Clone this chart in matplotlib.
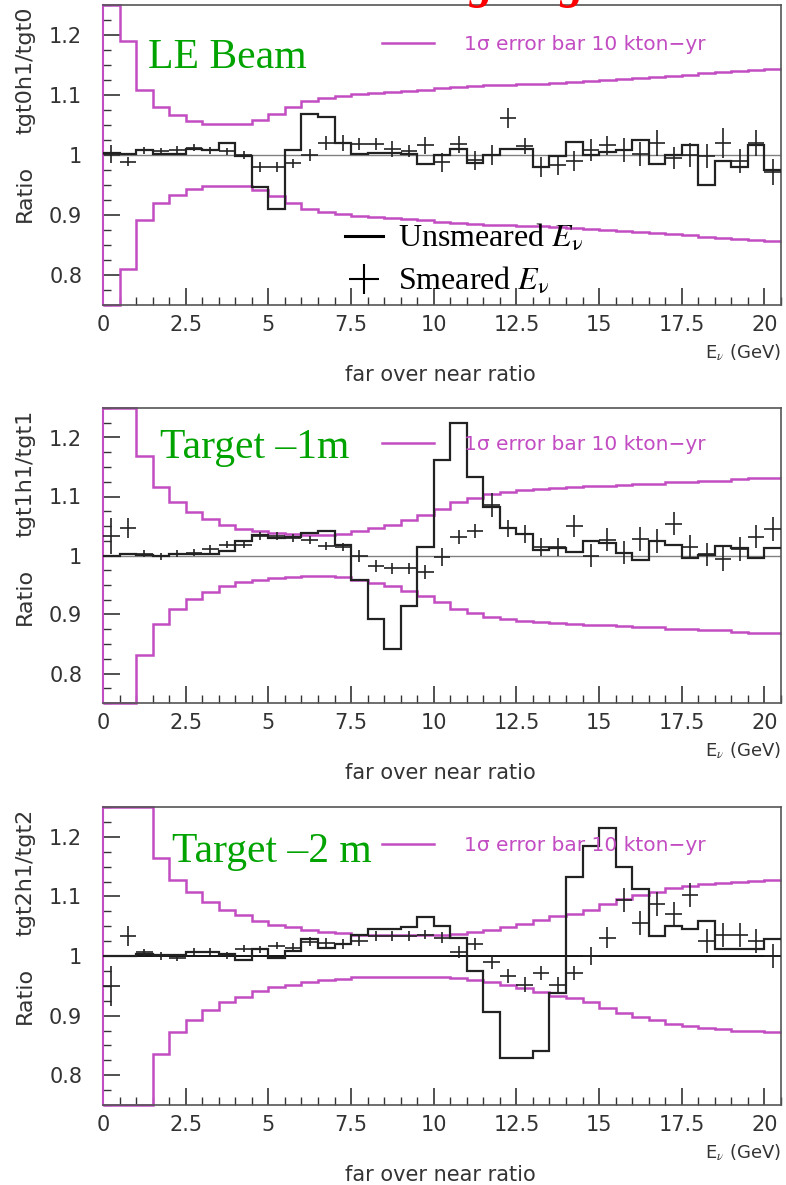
import numpy as np
import matplotlib
matplotlib.use("Agg")
import matplotlib.pyplot as plt
from matplotlib.lines import Line2D
from matplotlib.ticker import MultipleLocator, FuncFormatter

plt.rcParams["font.family"] = ["DejaVu Sans"]
plt.rcParams["mathtext.fontset"] = "stix"

# energy binning: 41 bins of 0.5 GeV
bin_edges = np.arange(0, 20.51, 0.5)

# 1 sigma statistical band (10 kton-yr), drawn as 1 +/- sigma
p1_sigma = [0.25, 0.19, 0.108, 0.08, 0.066, 0.056, 0.052, 0.051, 0.052, 0.059, 0.069,
            0.08, 0.09, 0.095, 0.099, 0.101, 0.103, 0.105, 0.107, 0.109, 0.111,
            0.113, 0.115, 0.116, 0.117, 0.118, 0.119, 0.12, 0.121, 0.123, 0.125,
            0.127, 0.129, 0.13, 0.132, 0.134, 0.136, 0.138, 0.14, 0.141, 0.143]
p2_sigma = [0.25, 0.25, 0.168, 0.116, 0.09, 0.073, 0.062, 0.051, 0.045, 0.041, 0.038,
            0.036, 0.035, 0.035, 0.037, 0.041, 0.047, 0.051, 0.06, 0.068, 0.078,
            0.09, 0.098, 0.104, 0.108, 0.111, 0.113, 0.115, 0.116, 0.117, 0.118,
            0.12, 0.121, 0.122, 0.124, 0.125, 0.126, 0.127, 0.13, 0.131, 0.132]
p3_sigma = [0.25, 0.25, 0.25, 0.165, 0.127, 0.107, 0.091, 0.078, 0.068, 0.059, 0.052,
            0.048, 0.044, 0.041, 0.038, 0.036, 0.035, 0.035, 0.035, 0.035, 0.035,
            0.037, 0.04, 0.044, 0.048, 0.054, 0.06, 0.067, 0.071, 0.078, 0.087,
            0.096, 0.103, 0.108, 0.114, 0.118, 0.121, 0.122, 0.125, 0.126, 0.127]

# unsmeared far/near ratio (histogram)
p1_unsmeared = [1.004, 1.002, 1.008, 1.002, 1.002, 1.01, 1.008, 1.02, 0.999, 0.947, 0.91,
                1.009, 1.068, 1.063, 1.02, 1.001, 1.004, 1.004, 1.002, 0.985, 1.0,
                1.01, 0.987, 1.0, 1.01, 1.01, 0.98, 0.998, 1.022, 1.0, 1.005,
                1.008, 1.025, 0.985, 1.0, 1.016, 0.95, 0.99, 0.98, 1.016, 0.975]
p2_unsmeared = [1.0, 1.002, 1.001, 1.0, 1.002, 1.003, 1.002, 1.008, 1.024, 1.034, 1.03,
                1.031, 1.038, 1.042, 1.017, 0.958, 0.892, 0.842, 0.914, 1.015, 1.162,
                1.224, 1.133, 1.083, 1.047, 1.037, 1.009, 1.012, 1.006, 1.024, 1.022,
                1.005, 0.993, 1.025, 1.018, 0.996, 1.001, 1.016, 1.013, 0.996, 1.013]
p3_unsmeared = [1.0, 1.0, 1.004, 1.001, 1.001, 1.007, 1.007, 1.003, 0.993, 1.012, 0.997,
                1.008, 1.029, 1.014, 1.02, 1.035, 1.045, 1.045, 1.049, 1.065, 1.05,
                1.031, 0.975, 0.906, 0.829, 0.829, 0.84, 0.938, 1.132, 1.185, 1.215,
                1.149, 1.112, 1.034, 1.05, 1.045, 1.059, 1.011, 1.011, 1.011, 1.028]

# smeared far/near ratio (points) and their errors
p1_smeared = [1.002, 0.989, 1.008, 1.006, 1.009, 1.012, 1.008, 1.006, 1.0, 0.98, 0.98,
              0.986, 1.0, 1.02, 1.02, 1.019, 1.019, 1.01, 1.006, 1.016, 0.988,
              1.018, 0.991, 1.0, 1.062, 1.015, 0.98, 0.983, 0.99, 1.008, 1.016,
              1.008, 1.001, 1.02, 0.995, 1.0, 0.998, 1.02, 0.99, 1.02, 0.972]
p2_smeared = [1.033, 1.046, 1.003, 0.999, 1.003, 1.005, 1.011, 1.018, 1.018, 1.033, 1.033,
              1.03, 1.026, 1.016, 1.014, 0.999, 0.982, 0.978, 0.978, 0.972, 0.997,
              1.032, 1.041, 1.086, 1.046, 1.037, 1.015, 1.015, 1.05, 1.0, 1.027,
              1.005, 1.028, 1.025, 1.054, 1.015, 1.002, 0.994, 1.011, 1.032, 1.045]
p3_smeared = [0.95, 1.034, 1.006, 1.0, 0.997, 1.007, 1.007, 1.001, 1.012, 1.011, 1.017,
              1.014, 1.024, 1.022, 1.02, 1.025, 1.034, 1.034, 1.034, 1.036, 1.031,
              1.007, 1.02, 0.99, 0.967, 0.952, 0.971, 0.952, 0.971, 1.0, 1.031,
              1.094, 1.055, 1.087, 1.07, 1.102, 1.025, 1.035, 1.035, 1.025, 1.0]
p1_err = [0.015, 0.008, 0.006, 0.006, 0.006, 0.006, 0.006, 0.006, 0.006, 0.008, 0.008,
          0.008, 0.01, 0.012, 0.013, 0.01, 0.01, 0.014, 0.01, 0.014, 0.016,
          0.014, 0.016, 0.016, 0.017, 0.014, 0.017, 0.016, 0.016, 0.018, 0.016,
          0.02, 0.02, 0.022, 0.018, 0.02, 0.02, 0.025, 0.02, 0.022, 0.022]
p2_err = [0.03, 0.017, 0.006, 0.006, 0.006, 0.006, 0.006, 0.006, 0.006, 0.007, 0.007,
          0.007, 0.007, 0.007, 0.007, 0.01, 0.01, 0.01, 0.01, 0.012, 0.015,
          0.012, 0.012, 0.02, 0.015, 0.015, 0.015, 0.015, 0.018, 0.02, 0.02,
          0.02, 0.02, 0.02, 0.02, 0.02, 0.02, 0.02, 0.02, 0.02, 0.02]
p3_err = [0.034, 0.017, 0.006, 0.006, 0.006, 0.006, 0.006, 0.006, 0.006, 0.006, 0.006,
          0.008, 0.008, 0.008, 0.008, 0.008, 0.008, 0.008, 0.008, 0.008, 0.01,
          0.01, 0.01, 0.012, 0.012, 0.012, 0.012, 0.012, 0.012, 0.015, 0.018,
          0.02, 0.02, 0.02, 0.02, 0.02, 0.02, 0.02, 0.02, 0.02, 0.02]

panel_names = ["LE Beam", "Target \u20131m", "Target \u20132 m"]
ytitles = ["tgt0h1/tgt0", "tgt1h1/tgt1", "tgt2h1/tgt2"]
sigmas = [p1_sigma, p2_sigma, p3_sigma]
unsmeared = [p1_unsmeared, p2_unsmeared, p3_unsmeared]
smeared = [p1_smeared, p2_smeared, p3_smeared]
errors = [p1_err, p2_err, p3_err]

MAGENTA = "#c24cc2"
GREEN = "#00a300"
FRAME = "#555555"
W, H = 786, 1185

fig = plt.figure(figsize=(W / 100, H / 100), dpi=100)

# axes boxes in pixels: (top, bottom)
boxes = [(5, 305), (408, 703), (807, 1105)]
left_px, right_px = 103, 781
name_pos = [(0.066, 0.79), (0.084, 0.83), (0.102, 0.815)]
leg_y = [0.867, 0.875, 0.872]
unity_col = ["#808080", "#808080", "black"]

centers = 0.5 * (bin_edges[:-1] + bin_edges[1:])
fmt = FuncFormatter(lambda v, p: "%g" % v)

for i in range(3):
    top, bot = boxes[i]
    ax = fig.add_axes([left_px / W, 1 - bot / H, (right_px - left_px) / W, (bot - top) / H])
    ax.set_xlim(0, 20.5)
    ax.set_ylim(0.75, 1.25)

    sig = np.array(sigmas[i])
    ax.stairs(1 + sig, bin_edges, baseline=None, color=MAGENTA, lw=1.8,
              clip_on=False, zorder=2)
    ax.stairs(1 - sig, bin_edges, baseline=None, color=MAGENTA, lw=1.8,
              clip_on=False, zorder=2)
    ax.axhline(1, color=unity_col[i], lw=1.3 if i == 2 else 1.0, zorder=1)
    ax.stairs(unsmeared[i], bin_edges, baseline=None, color="#222222", lw=1.6, zorder=3)
    ax.errorbar(centers, smeared[i], xerr=0.25, yerr=errors[i], fmt="none",
                ecolor="#222222", elinewidth=1.2, zorder=4)

    for s in ["top", "right", "bottom"]:
        ax.spines[s].set_color(FRAME)
        ax.spines[s].set_linewidth(1.2)
    ax.spines["left"].set_color(MAGENTA)
    ax.spines["left"].set_linewidth(1.5)

    ax.xaxis.set_major_locator(MultipleLocator(2.5))
    ax.xaxis.set_minor_locator(MultipleLocator(0.5))
    ax.yaxis.set_major_locator(MultipleLocator(0.1))
    ax.yaxis.set_minor_locator(MultipleLocator(0.025))
    ax.xaxis.set_major_formatter(fmt)
    ax.yaxis.set_major_formatter(fmt)
    ax.tick_params(which="both", direction="in", top=False, right=False,
                   colors="#333333", labelsize=15)
    ax.tick_params(which="major", length=12.5, width=1.2)
    ax.tick_params(which="minor", length=6, width=1.0)
    ax.tick_params(axis="y", which="major", pad=15)
    ax.tick_params(axis="x", which="major", pad=7)

    hgt = bot - top
    ax.text(1.0, -48 / hgt, "E$_\u03bd$ (GeV)", transform=ax.transAxes, ha="right",
            va="center", fontsize=13, color="#333333")
    ax.text(0.497, -70 / hgt, "far over near ratio", transform=ax.transAxes,
            ha="center", va="center", fontsize=15, color="#333333")
    ax.text(-78 / 678, 1 - 65 / hgt, ytitles[i], transform=ax.transAxes, rotation=90,
            ha="center", va="center", fontsize=16, color="#333333")
    ax.text(-78 / 678, 1 - 188 / hgt, "Ratio", transform=ax.transAxes, rotation=90,
            ha="center", va="center", fontsize=16, color="#333333")

    ax.text(name_pos[i][0], name_pos[i][1], panel_names[i], transform=ax.transAxes,
            ha="left", va="baseline", fontsize=30, color=GREEN,
            family="Liberation Serif")

    leg = ax.legend([Line2D([], [], color=MAGENTA, lw=1.8)],
                    ["1\u03c3 error bar 10 kton\u2212yr"],
                    loc="center left", bbox_to_anchor=(0.411, leg_y[i]),
                    frameon=False, borderpad=0, borderaxespad=0,
                    handlelength=2.6, handletextpad=1.5, fontsize=14.5,
                    labelcolor=MAGENTA)
    if i == 0:
        ax.add_artist(leg)
        h1 = Line2D([], [], color="black", lw=2.2)
        h2 = Line2D([], [], color="black", lw=0, marker="+", markersize=22, mew=1.5)
        ax.legend([h1, h2], ["Unsmeared $E_{\\mathrm{\u03bd}}$",
                             "Smeared $E_{\\mathrm{\u03bd}}$"],
                  loc="center left", bbox_to_anchor=(0.357, 0.15), frameon=False,
                  borderpad=0, borderaxespad=0, handlelength=1.2,
                  handletextpad=0.45, labelspacing=0.38,
                  prop={"family": "Liberation Serif", "size": 23})

# red title cut off by the top of the page, only descenders visible
fig.text(345 / W, 1 + 2 / H, "Moving target", color="red", fontsize=34,
         family="Liberation Serif", style="italic", weight="bold", va="baseline")

fig.savefig("out.png", dpi=100)
